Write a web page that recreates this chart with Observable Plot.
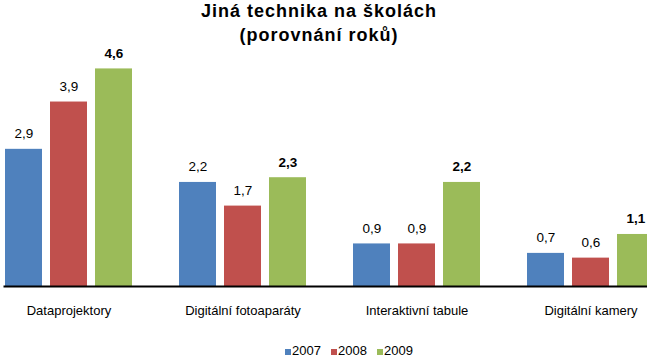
<!DOCTYPE html>
<html>
<head>
<meta charset="utf-8">
<script src="https://cdn.jsdelivr.net/npm/d3@7"></script>
<script src="https://cdn.jsdelivr.net/npm/@observablehq/plot@0.6"></script>
<style>
  body { margin: 0; background: #fff; }
  #wrap { position: relative; width: 647px; height: 359px; overflow: hidden; font-family: "Liberation Sans", Arial, sans-serif; }
  #title { position: absolute; left: 0; top: -1px; width: 638px; text-align: center; font-weight: bold; font-size: 18px; line-height: 24px; letter-spacing: 1px; color: #000; z-index: 2; }
  #legend { position: absolute; left: 285px; top: 343px; font-size: 13px; line-height: 16px; display: flex; gap: 0; z-index: 2; }
  #legend .item { display: flex; align-items: baseline; width: 46px; }
  #legend .sw { display: inline-block; width: 6px; height: 6px; margin-right: 1px; }
  #chart { position: absolute; left: 0; top: 0; }
</style>
</head>
<body>
<div id="wrap">
  <div id="title">Jiná technika na školách<br>(porovnání roků)</div>
  <div id="chart"></div>
  <div id="legend"></div>
</div>
<script>
const categories = ["Dataprojektory", "Digitální fotoaparáty", "Interaktivní tabule", "Digitální kamery"];
const years = ["2007", "2008", "2009"];
const values2007 = [2.9, 2.2, 0.9, 0.7];
const values2008 = [3.9, 1.7, 0.9, 0.6];
const values2009 = [4.6, 2.3, 2.2, 1.1];
const colors = ["#4F81BD", "#C0504D", "#9BBB59"];

const series = [values2007, values2008, values2009];
const data = categories.flatMap((c, i) => years.map((y, j) => ({category: c, year: y, value: series[j][i]})));
const fmt = v => v.toFixed(1).replace(".", ",");

const labelOpts = {
  fx: "category", x: "year", y: "value",
  text: d => fmt(d.value),
  lineAnchor: "bottom", dy: -11, fontSize: 13.5, fill: "#000"
};

const chart = Plot.plot({
  width: 647,
  height: 359,
  marginTop: 49.5,
  marginBottom: 73,
  marginLeft: 0,
  marginRight: 0,
  style: {fontFamily: '"Liberation Sans", Arial, sans-serif', background: "transparent"},
  fx: {domain: categories, range: [2, 657], paddingInner: 0.257, paddingOuter: 0, label: null},
  x: {domain: years, paddingInner: 0.174, paddingOuter: 0, axis: null},
  y: {domain: [0, 5], axis: null},
  color: {domain: years, range: colors},
  marks: [
    Plot.barY(data, {fx: "category", x: "year", y: "value", fill: "year"}),
    Plot.text(data.filter(d => d.year !== "2009"), {...labelOpts, fontWeight: "normal"}),
    Plot.text(data.filter(d => d.year === "2009"), {...labelOpts, fontWeight: "bold"}),
    Plot.frame({anchor: "bottom", facet: "super", stroke: "#000", strokeWidth: 2}),
    Plot.axisFx({anchor: "bottom", tickSize: 0, tickPadding: 19, fontSize: 13, label: null, fill: "#000"})
  ]
});
document.getElementById("chart").appendChild(chart);

const legend = document.getElementById("legend");
years.forEach((y, i) => {
  const item = document.createElement("span");
  item.className = "item";
  const sw = document.createElement("span");
  sw.className = "sw";
  sw.style.background = colors[i];
  item.appendChild(sw);
  item.appendChild(document.createTextNode(y));
  legend.appendChild(item);
});
</script>
</body>
</html>
